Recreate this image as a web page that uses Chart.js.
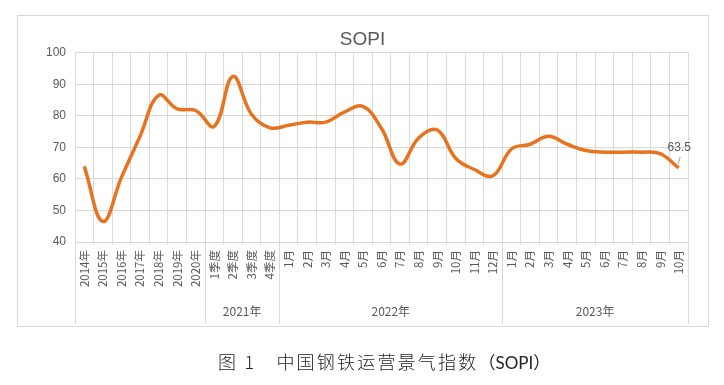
<!DOCTYPE html>
<html>
<head>
<meta charset="utf-8">
<script src="https://cdn.jsdelivr.net/npm/chart.js@4/dist/chart.umd.min.js"></script>
<style>
  html, body { margin: 0; padding: 0; background: #fff; }
  #wrap { position: relative; width: 724px; height: 385px; }
  #c { position: absolute; left: 0; top: 0; }
  #caption { position: absolute; left: 218px; top: 348px; white-space: nowrap;
    font-family: "Noto Sans CJK SC", "DejaVu Sans", sans-serif; font-size: 18px; font-weight: 300;
    letter-spacing: 2.2px; color: #222; line-height: 26px; }
  #caption .abbr { font-family: Lato, "Noto Sans CJK SC", sans-serif; font-size: 17px; letter-spacing: 0px; font-weight: 400; }
</style>
</head>
<body>
<div id="wrap">
  <canvas id="c" width="724" height="385"></canvas>
  <div id="caption">图 1　中国钢铁运营景气指数<span class="abbr">（SOPI）</span></div>
</div>
<script>
// ---- data ----
const categories = ['2014年','2015年','2016年','2017年','2018年','2019年','2020年',
  '1季度','2季度','3季度','4季度',
  '1月','2月','3月','4月','5月','6月','7月','8月','9月','10月','11月','12月',
  '1月','2月','3月','4月','5月','6月','7月','8月','9月','10月'];
const sopiValues = [64, 46.5, 60.5, 73.5, 86.5, 82.2, 81.7,
  76.7, 92.5, 80.5, 76.2,
  77, 78, 78, 81.2, 83, 76, 64.7, 73, 75.5, 66.5, 63, 61,
  69.5, 71, 73.5, 71, 69, 68.5, 68.5, 68.5, 68, 63.5];
const groupLabels = ['', '2021年', '2022年', '2023年'];
const groupSizes = [7, 4, 12, 10];
const yTicks = [40, 50, 60, 70, 80, 90, 100];
const chartTitle = 'SOPI';
const seriesName = 'SOPI';

const gridColor = '#d9d9d9';
const textColor = '#595959';
const lineColor = '#E8731E';

const decorPlugin = {
  id: 'decor',
  beforeDraw(chart) {
    const ctx = chart.ctx;
    ctx.save();
    ctx.fillStyle = '#fff';
    ctx.fillRect(0, 0, chart.width, chart.height);
    ctx.strokeStyle = gridColor;
    ctx.lineWidth = 1;
    ctx.strokeRect(17.5, 15.5, 691, 311);
    ctx.restore();
  },
  afterDraw(chart) {
    const ctx = chart.ctx;
    const xs = chart.scales.x;
    const area = chart.chartArea;
    const w = xs.getPixelForValue(1) - xs.getPixelForValue(0);
    ctx.save();
    ctx.strokeStyle = gridColor;
    ctx.lineWidth = 1;
    ctx.fillStyle = textColor;
    ctx.font = '12px "Noto Sans CJK SC", "Liberation Sans", sans-serif';
    ctx.textAlign = 'center';
    ctx.textBaseline = 'middle';
    let start = 0;
    const bounds = [0];
    groupSizes.forEach(s => { start += s; bounds.push(start); });
    bounds.forEach(b => {
      const x = Math.round(xs.getPixelForValue(0) - w / 2 + b * w) + 0.5;
      ctx.beginPath();
      ctx.moveTo(x, area.bottom);
      ctx.lineTo(x, 324);
      ctx.stroke();
    });
    for (let g = 0; g < groupSizes.length; g++) {
      const x0 = xs.getPixelForValue(0) - w / 2 + bounds[g] * w;
      const x1 = xs.getPixelForValue(0) - w / 2 + bounds[g + 1] * w;
      if (groupLabels[g]) ctx.fillText(groupLabels[g], (x0 + x1) / 2, 311);
    }
    // data label for last point
    const meta = chart.getDatasetMeta(0);
    const last = meta.data[meta.data.length - 1];
    const v = sopiValues[sopiValues.length - 1];
    ctx.strokeStyle = '#a6a6a6';
    ctx.beginPath();
    ctx.moveTo(last.x + 1.5, last.y - 11);
    ctx.lineTo(last.x - 0.5, last.y - 4);
    ctx.stroke();
    ctx.fillStyle = textColor;
    ctx.font = '12px "Liberation Sans", sans-serif';
    ctx.fillText(String(v), last.x + 0.5, last.y - 20);
    ctx.restore();
  }
};

new Chart(document.getElementById('c'), {
  type: 'line',
  data: {
    labels: categories,
    datasets: [{
      label: seriesName,
      data: sopiValues,
      borderColor: lineColor,
      backgroundColor: lineColor,
      borderWidth: 3.5,
      pointRadius: 0,
      tension: 0.4,
      fill: false
    }]
  },
  options: {
    responsive: false,
    animation: false,
    layout: { padding: { left: 17, right: 16, top: 15, bottom: 58 } },
    plugins: {
      legend: { display: false },
      tooltip: { enabled: false },
      title: {
        display: true, text: chartTitle, color: textColor,
        font: { size: 19, weight: 'normal', family: '"Liberation Sans", sans-serif' },
        padding: { top: 13, bottom: 2 }
      }
    },
    scales: {
      x: {
        type: 'category',
        offset: true,
        grid: { offset: true, color: gridColor, lineWidth: 1, drawTicks: true, tickLength: 3 },
        border: { display: false },
        ticks: {
          autoSkip: false, maxRotation: 90, minRotation: 90, padding: 5,
          color: textColor,
          font: { size: 11.5, family: '"Noto Sans CJK SC", "Liberation Sans", sans-serif' }
        },
        afterFit(scale) { scale.height = 85; }
      },
      y: {
        min: 40, max: 100,
        afterBuildTicks(scale) { scale.ticks = yTicks.map(v => ({ value: v })); },
        grid: { color: gridColor, lineWidth: 1, drawTicks: false },
        border: { display: false },
        ticks: { padding: 9, color: textColor, font: { size: 12, family: '"Liberation Sans", sans-serif' } },
        afterFit(scale) { scale.width = 58; }
      },
      yR: {
        position: 'right',
        display: true,
        grid: { display: false, drawTicks: false },
        border: { display: false },
        ticks: { display: false },
        afterFit(scale) { scale.width = 20; }
      }
    }
  },
  plugins: [decorPlugin]
});
</script>
</body>
</html>
